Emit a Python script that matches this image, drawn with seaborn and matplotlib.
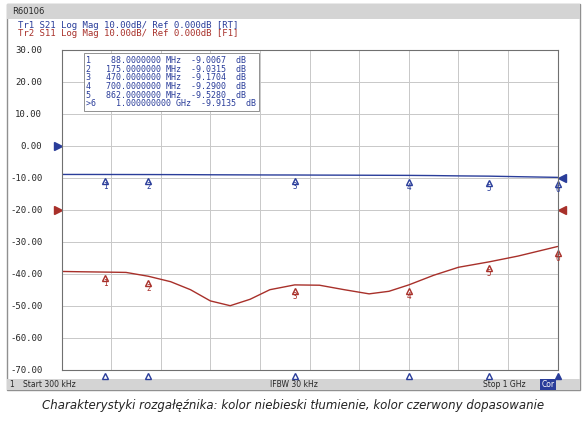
import numpy as np
import pandas as pd
import matplotlib
matplotlib.use("Agg")
import matplotlib.pyplot as plt
import seaborn as sns

# frequency in MHz
freq = [0.3, 40, 88, 130, 175, 220, 260, 300, 340, 380, 420, 470, 520, 570, 620, 660, 700, 750, 800, 862, 920, 1000]
s21 = [-9.0, -9.0, -9.01, -9.02, -9.03, -9.05, -9.07, -9.1, -9.12, -9.14, -9.16, -9.17, -9.2, -9.22, -9.25, -9.27, -9.29, -9.35, -9.45, -9.53, -9.7, -9.91]
s11 = [-39.3, -39.4, -39.5, -39.6, -40.8, -42.5, -45.0, -48.5, -50.0, -48.0, -45.0, -43.5, -43.6, -45.0, -46.3, -45.5, -43.5, -40.5, -38.0, -36.3, -34.5, -31.5]
mk_freq = [88, 175, 470, 700, 862, 1000]
mk_lbl = ["1", "2", "3", "4", "5", "6"]
yticks = [30, 20, 10, 0, -10, -20, -30, -40, -50, -60, -70]
markers_txt = ["1    88.0000000 MHz  -9.0067  dB",
               "2   175.0000000 MHz  -9.0315  dB",
               "3   470.0000000 MHz  -9.1704  dB",
               "4   700.0000000 MHz  -9.2900  dB",
               "5   862.0000000 MHz  -9.5280  dB",
               ">6    1.000000000 GHz  -9.9135  dB"]

sns.set_style("white")
plt.rcParams['font.family'] = ['DejaVu Sans Mono', 'DejaVu Sans']
blue = "#2a3d9a"
red = "#a8302a"

fig = plt.figure(figsize=(5.87, 4.24), dpi=100)
# window frame
for rect in [((0.012, 0.08), 0.976, 0.91, "white", "#909090"),
             ((0.012, 0.955), 0.976, 0.035, "#d4d4d4", "none"),
             ((0.012, 0.08), 0.976, 0.027, "#d4d4d4", "none")]:
    fig.patches.append(plt.Rectangle(rect[0], rect[1], rect[2], transform=fig.transFigure,
                                     facecolor=rect[3], edgecolor=rect[4], lw=1, zorder=-5))
fig.text(0.02, 0.972, "R60106", fontsize=6, va="center", family="DejaVu Sans")
fig.text(0.03, 0.94, "Tr1 S21 Log Mag 10.00dB/ Ref 0.000dB [RT]", fontsize=6.5, color=blue, va="center")
fig.text(0.03, 0.922, "Tr2 S11 Log Mag 10.00dB/ Ref 0.000dB [F1]", fontsize=6.5, color=red, va="center")
fig.text(0.016, 0.093, "1", fontsize=5.5, va="center", family="DejaVu Sans")
fig.text(0.04, 0.093, "Start 300 kHz", fontsize=5.5, va="center", family="DejaVu Sans")
fig.text(0.5, 0.093, "IFBW 30 kHz", fontsize=5.5, va="center", ha="center", family="DejaVu Sans")
fig.text(0.895, 0.093, "Stop 1 GHz", fontsize=5.5, va="center", ha="right", family="DejaVu Sans")
fig.text(0.922, 0.093, "Cor", fontsize=5.5, va="center", color="white", family="DejaVu Sans",
         bbox=dict(facecolor="#2a3d9a", edgecolor="none", pad=1))
fig.text(0.5, 0.035, "Charakterystyki rozgałęźnika: kolor niebieski tłumienie, kolor czerwony dopasowanie",
         fontsize=8.5, ha="center", style="italic", family="DejaVu Sans", color="#222222")

ax = fig.add_axes([0.105, 0.128, 0.845, 0.755])
df = pd.DataFrame({"f": freq, "s21": s21, "s11": s11})
sns.lineplot(data=df, x="f", y="s21", color=blue, lw=1, ax=ax)
sns.lineplot(data=df, x="f", y="s11", color=red, lw=1, ax=ax)
ax.set_xlim(0.3, 1000)
ax.set_ylim(-70, 30)
ax.set_xticks(np.linspace(0.3, 1000, 11))
ax.set_xticklabels([])
ax.set_yticks(yticks)
ax.set_yticklabels([f"{v:.2f}" for v in yticks], fontsize=6.5)
ax.tick_params(length=0, pad=14)
ax.grid(True, color="#c8c8c8", lw=0.7)
for s in ax.spines.values():
    s.set_color("#707070")
ax.set_xlabel("")
ax.set_ylabel("")

for f, l in zip(mk_freq, mk_lbl):
    v21 = np.interp(f, freq, s21)
    v11 = np.interp(f, freq, s11)
    ax.plot(f, v21 - 2.0, marker="^", ms=5, mfc="white", mec=blue, clip_on=False)
    ax.text(f, v21 - 4.5, l, color=blue, fontsize=5.5, ha="center")
    ax.plot(f, v11 - 2.0, marker="^", ms=5, mfc="white", mec=red, clip_on=False)
    ax.text(f, v11 - 4.5, l, color=red, fontsize=5.5, ha="center")
    ax.plot(f, -72, marker="^", ms=5, mfc="white" if f < 1000 else blue, mec=blue, clip_on=False)

ax.plot(-8, 0, marker=">", ms=6, color=blue, clip_on=False)
ax.plot(-8, -20, marker=">", ms=6, color=red, clip_on=False)
ax.plot(1008, -10, marker="<", ms=6, color=blue, clip_on=False)
ax.plot(1008, -20, marker="<", ms=6, color=red, clip_on=False)

ax.text(0.05, 0.98, "\n".join(markers_txt), transform=ax.transAxes, fontsize=6,
        color=blue, va="top", linespacing=0.95,
        bbox=dict(facecolor="white", edgecolor="#808080", lw=0.6, pad=2))

fig.savefig("out.png", dpi=100)
